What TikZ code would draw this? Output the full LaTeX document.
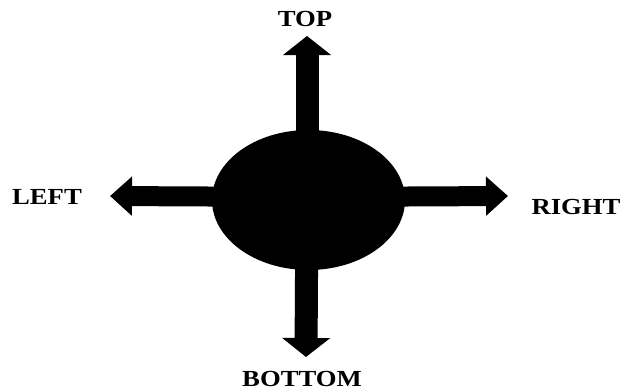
\documentclass[tikz,border=0pt]{standalone}
\usepackage{fontspec}
\newfontfamily\lblfont[FakeStretch=1.16]{Liberation Serif}
\usetikzlibrary{arrows.meta,shapes.geometric}

\begin{document}
\begin{tikzpicture}[x=1pt, y=-1pt,
  lbl/.style={font=\lblfont\bfseries\fontsize{23}{23}\selectfont, inner sep=0pt},
  vshaft/.style={line width=23pt, -{Triangle[width=47pt,length=19pt]}},
  hshaft/.style={line width=20pt, -{Triangle[width=38pt,length=22pt]}}]
  \useasboundingbox (0,0) rectangle (623,391);
  % Centre and arrow ends
  \coordinate (c) at (307,197);
  \coordinate (toptip) at (307,36);
  \coordinate (bottip) at (306,357);
  \coordinate (lefttip) at (110,196);
  \coordinate (righttip) at (508,196);
  % Arrows
  \draw[vshaft] (c) -- (toptip);
  \draw[vshaft] (c) -- (bottip);
  \draw[hshaft] (c) -- (lefttip);
  \draw[hshaft] (c) -- (righttip);
  % Blob
  \node[ellipse, fill=black, inner sep=0pt, minimum width=193pt, minimum height=140pt] (blob) at (308.5,200) {};
  % Labels
  \node[lbl] (top) at (305,19) {TOP};
  \node[lbl] (left) at (47,197) {LEFT};
  \node[lbl] (right) at (576,207) {RIGHT};
  \node[lbl] (bottom) at (302,378.5) {BOTTOM};
\end{tikzpicture}
\end{document}
